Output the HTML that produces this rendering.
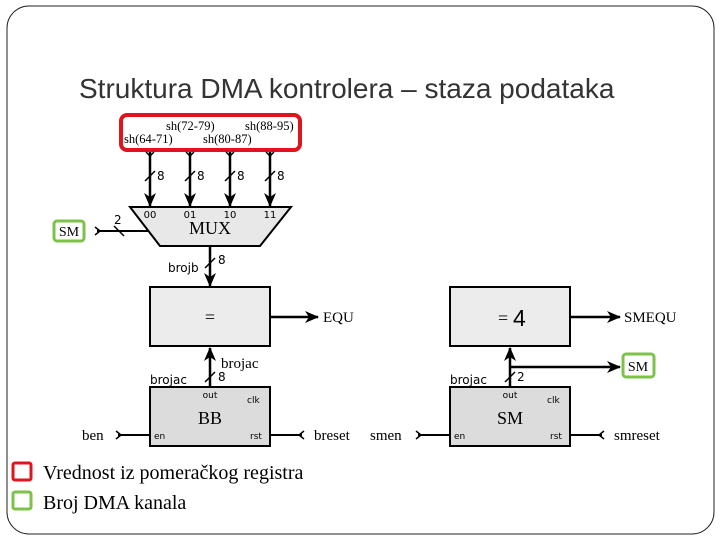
<!DOCTYPE html>
<html><head><meta charset="utf-8"><style>
html,body{margin:0;padding:0;background:#fff;width:720px;height:540px;overflow:hidden}
svg{display:block}
.s{font-family:"DejaVu Sans","Liberation Sans",sans-serif}
.r{font-family:"Liberation Serif","DejaVu Serif",serif}
</style></head><body>
<svg width="720" height="540" viewBox="0 0 720 540">
<defs>
<marker id="a" markerWidth="14" markerHeight="12" refX="13" refY="6" orient="auto" markerUnits="userSpaceOnUse" viewBox="0 0 14 12">
<path d="M0,0 L14,6 L0,12 L4,6 Z" fill="#000"/></marker>
</defs>
<rect x="7" y="6" width="707" height="528" rx="22" fill="#fff" stroke="#222" stroke-width="1"/>
<text x="79" y="98" font-family="Liberation Sans, sans-serif" font-size="28" fill="#333">Struktura DMA kontrolera – staza podataka</text>
<rect x="121" y="115" width="179" height="35" rx="6" fill="#fff" stroke="#e0141a" stroke-width="4"/>
<g class="r" font-size="12.5" fill="#000">
<text x="166" y="130">sh(72-79)</text><text x="245" y="130">sh(88-95)</text>
<text x="124" y="143">sh(64-71)</text><text x="203" y="143">sh(80-87)</text>
</g>
<g stroke="#000" stroke-width="2.5" fill="none">
<path d="M150,152 V206" marker-end="url(#a)"/><path d="M190,152 V206" marker-end="url(#a)"/>
<path d="M230,152 V206" marker-end="url(#a)"/><path d="M270,152 V206" marker-end="url(#a)"/>
</g>
<g stroke="#000" stroke-width="1.5" fill="none">
<path d="M146,152 L150,156 L154,152"/><path d="M186,152 L190,156 L194,152"/><path d="M226,152 L230,156 L234,152"/><path d="M266,152 L270,156 L274,152"/>
<path d="M145,181 L155,171"/><path d="M185,181 L195,171"/><path d="M225,181 L235,171"/><path d="M265,181 L275,171"/>
</g>
<g class="s" font-size="12"><text x="157" y="180">8</text><text x="197" y="180">8</text><text x="237" y="180">8</text><text x="277" y="180">8</text></g>
<path d="M130,207 L291,207 L260,246 L160,246 Z" fill="#e8e8e8" stroke="#000" stroke-width="2"/>
<g class="s" font-size="10" text-anchor="middle"><text x="150" y="218">00</text><text x="190" y="218">01</text><text x="230" y="218">10</text><text x="270" y="218">11</text></g>
<text x="210" y="234" class="r" font-size="18" text-anchor="middle">MUX</text>
<rect x="54" y="221" width="30" height="20" rx="3" fill="#fff" stroke="#7dc24b" stroke-width="3"/>
<text x="69" y="236" class="r" font-size="14" text-anchor="middle">SM</text>
<path d="M97,231 H148" stroke="#000" stroke-width="2"/>
<path d="M95,227 L100,231 L95,235" stroke="#000" stroke-width="1.5" fill="none"/>
<path d="M114,226 L124,236" stroke="#000" stroke-width="1.5"/>
<text x="114" y="224" class="s" font-size="12">2</text>
<path d="M210,246 V286" stroke="#000" stroke-width="2.5" marker-end="url(#a)"/>
<path d="M205,268 L215,258" stroke="#000" stroke-width="1.5"/>
<text x="218" y="264" class="s" font-size="12">8</text>
<text x="168" y="272" class="s" font-size="12">brojb</text>
<rect x="150" y="287" width="120" height="59" fill="#ececec" stroke="#000" stroke-width="2"/>
<text x="210" y="323" class="r" font-size="18" text-anchor="middle">=</text>
<path d="M270,317 H318" stroke="#000" stroke-width="2.5" marker-end="url(#a)"/>
<text x="323" y="322" class="r" font-size="15">EQU</text>
<path d="M210,387 V348" stroke="#000" stroke-width="2.5" marker-end="url(#a)"/>
<path d="M205,382 L215,372" stroke="#000" stroke-width="1.5"/>
<text x="221" y="368" class="r" font-size="15">brojac</text>
<text x="218" y="381" class="s" font-size="12">8</text>
<text x="150" y="384" class="s" font-size="12">brojac</text>
<rect x="150" y="387" width="120" height="59" fill="#dcdcdc" stroke="#000" stroke-width="2"/>
<g class="s" font-size="9"><text x="210" y="398" text-anchor="middle">out</text><text x="247" y="403">clk</text><text x="154" y="439">en</text><text x="250" y="439">rst</text></g>
<text x="210" y="424" class="r" font-size="18" text-anchor="middle">BB</text>
<path d="M118,435 H150 M270,435 H302" stroke="#000" stroke-width="2"/>
<path d="M116,431 L121,435 L116,439 M304,431 L299,435 L304,439" stroke="#000" stroke-width="1.5" fill="none"/>
<text x="82" y="440" class="r" font-size="15">ben</text>
<text x="314" y="440" class="r" font-size="15">breset</text>
<rect x="450" y="287" width="120" height="59" fill="#ececec" stroke="#000" stroke-width="2"/>
<text x="498" y="324" class="r" font-size="18">=</text><text x="513" y="326" font-family="Liberation Sans, sans-serif" font-size="23">4</text>
<path d="M570,317 H620" stroke="#000" stroke-width="2.5" marker-end="url(#a)"/>
<text x="624" y="322" class="r" font-size="15">SMEQU</text>
<path d="M510,387 V348" stroke="#000" stroke-width="2.5" marker-end="url(#a)"/>
<path d="M510,367 H620" stroke="#000" stroke-width="2.5" marker-end="url(#a)"/>
<rect x="623" y="354" width="31" height="23" rx="3" fill="#fff" stroke="#7dc24b" stroke-width="3"/>
<text x="638" y="371" class="r" font-size="14" text-anchor="middle">SM</text>
<path d="M505,382 L515,372" stroke="#000" stroke-width="1.5"/>
<text x="517" y="381" class="s" font-size="12">2</text>
<text x="450" y="384" class="s" font-size="12">brojac</text>
<rect x="450" y="387" width="120" height="59" fill="#dcdcdc" stroke="#000" stroke-width="2"/>
<g class="s" font-size="9"><text x="510" y="398" text-anchor="middle">out</text><text x="547" y="403">clk</text><text x="454" y="439">en</text><text x="550" y="439">rst</text></g>
<text x="510" y="424" class="r" font-size="18" text-anchor="middle">SM</text>
<path d="M418,435 H450 M570,435 H602" stroke="#000" stroke-width="2"/>
<path d="M416,431 L421,435 L416,439 M604,431 L599,435 L604,439" stroke="#000" stroke-width="1.5" fill="none"/>
<text x="370" y="440" class="r" font-size="15">smen</text>
<text x="614" y="440" class="r" font-size="15">smreset</text>
<rect x="13" y="463" width="18" height="17" rx="2" fill="#fff" stroke="#e0141a" stroke-width="3"/>
<text x="43" y="479" class="r" font-size="20">Vrednost iz pomeračkog registra</text>
<rect x="13" y="492" width="18" height="17" rx="2" fill="#fff" stroke="#7dc24b" stroke-width="3"/>
<text x="43" y="509" class="r" font-size="20">Broj DMA kanala</text>
</svg>
</body></html>
